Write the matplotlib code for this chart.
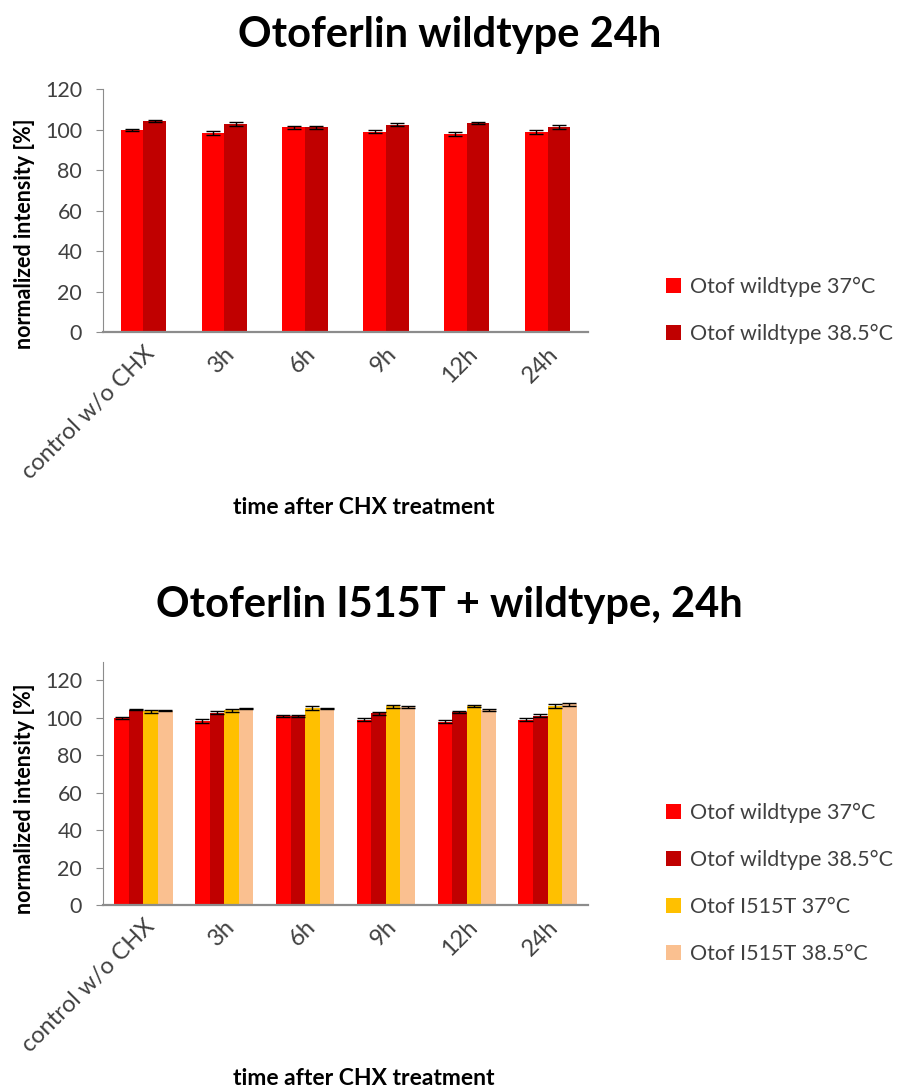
import matplotlib.pyplot as plt
import numpy as np

plt.rcParams['font.family'] = ['Lato', 'DejaVu Sans']

categories = ['control w/o CHX', '3h', '6h', '9h', '12h', '24h']

wt37 = [99.8, 98.2, 101.1, 99.0, 98.0, 99.0]
wt37_err = [0.6, 1.0, 0.6, 0.7, 1.0, 0.9]
wt385 = [104.3, 102.8, 101.1, 102.5, 103.2, 101.2]
wt385_err = [0.3, 0.8, 0.6, 0.8, 0.4, 1.0]
i515t37 = [103.5, 104.0, 105.3, 106.3, 106.2, 106.3]
i515t37_err = [0.7, 0.7, 1.0, 0.8, 0.6, 1.0]
i515t385 = [103.8, 105.0, 105.0, 105.8, 104.0, 107.2]
i515t385_err = [0.3, 0.3, 0.3, 0.3, 0.6, 0.7]

labels = ['Otof wildtype 37°C', 'Otof wildtype 38.5°C',
          'Otof I515T 37°C', 'Otof I515T 38.5°C']
colors = ['#FF0000', '#C00000', '#FFC000', '#FAC090']

txt = '#404040'
spine = '#8c8c8c'

fig = plt.figure(figsize=(9.07, 10.91), dpi=100)


def style(ax, ymax):
    ax.set_xlim(-0.5, len(categories) - 0.5)
    ax.set_ylim(0, ymax)
    ax.set_yticks(np.arange(0, 121, 20))
    ax.spines['top'].set_visible(False)
    ax.spines['right'].set_visible(False)
    ax.spines['left'].set_color(spine)
    ax.spines['bottom'].set_color(spine)
    ax.spines['bottom'].set_linewidth(1.6)
    ax.tick_params(axis='y', colors=spine, labelcolor=txt, labelsize=15.5, length=5,
                   direction='out', pad=10)
    ax.tick_params(axis='x', length=0, labelcolor=txt, labelsize=17, pad=8)
    ax.set_xticks(np.arange(len(categories)))
    ax.set_xticklabels(categories, rotation=45, ha='right', rotation_mode='anchor')


x = np.arange(len(categories))
leg_kw = dict(loc='center left', frameon=False, fontsize=15.5, labelcolor=txt,
              handlelength=0.7, handleheight=0.7, handletextpad=0.45, labelspacing=1.25)

# top chart
ax1 = fig.add_axes([0.1136, 0.6957, 0.5347, 0.2225])
w = 0.28
data1 = [(wt37, wt37_err), (wt385, wt385_err)]
for i, (vals, errs) in enumerate(data1):
    ax1.bar(x + (i - 0.5) * w, vals, w, color=colors[i], label=labels[i],
            yerr=errs, error_kw=dict(ecolor='black', elinewidth=1, capsize=5, capthick=1))
style(ax1, 120)
ax1.legend(bbox_to_anchor=(1.12, 0.09), **leg_kw)

# bottom chart
ax2 = fig.add_axes([0.1136, 0.1705, 0.5347, 0.2230])
w = 0.18
data2 = [(wt37, wt37_err), (wt385, wt385_err), (i515t37, i515t37_err), (i515t385, i515t385_err)]
for i, (vals, errs) in enumerate(data2):
    ax2.bar(x + (i - 1.5) * w, vals, w, color=colors[i], label=labels[i],
            yerr=errs, error_kw=dict(ecolor='black', elinewidth=1, capsize=5, capthick=1))
style(ax2, 130)
ax2.legend(bbox_to_anchor=(1.12, 0.09), **leg_kw)

# titles and axis labels
fig.text(0.496, 0.968, 'Otoferlin wildtype 24h', ha='center', va='center',
         fontsize=30, fontweight='bold')
fig.text(0.496, 0.4455, 'Otoferlin I515T + wildtype, 24h', ha='center', va='center',
         fontsize=30, fontweight='bold')
fig.text(0.401, 0.5344, 'time after CHX treatment', ha='center', va='center',
         fontsize=16.5, fontweight='bold')
fig.text(0.401, 0.011, 'time after CHX treatment', ha='center', va='center',
         fontsize=16.5, fontweight='bold')
fig.text(0.027, 0.786, 'normalized intensity [%]', ha='center', va='center',
         rotation=90, fontsize=15.5, fontweight='bold')
fig.text(0.027, 0.268, 'normalized intensity [%]', ha='center', va='center',
         rotation=90, fontsize=15.5, fontweight='bold')

plt.savefig('out.png', dpi=100)
